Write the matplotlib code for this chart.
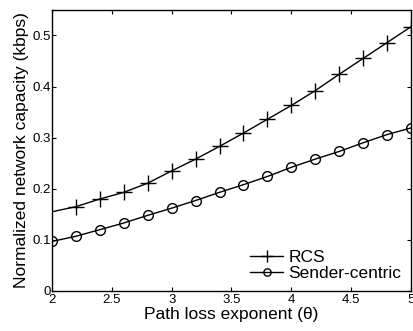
import numpy as np
from matplotlib import pyplot as plt

# path loss exponent
theta = [2.0, 2.2, 2.4, 2.6, 2.8, 3.0, 3.2, 3.4, 3.6, 3.8, 4.0, 4.2, 4.4, 4.6, 4.8, 5.0]
rcs = [0.155, 0.165, 0.180, 0.193, 0.211, 0.235, 0.258, 0.283, 0.309, 0.336, 0.363, 0.392, 0.424, 0.455, 0.486, 0.517]
sender = [0.097, 0.107, 0.120, 0.133, 0.148, 0.162, 0.177, 0.193, 0.208, 0.224, 0.242, 0.258, 0.273, 0.290, 0.306, 0.319]

xticks = [2, 2.5, 3, 3.5, 4, 4.5, 5]
xticklabels = ['2', '2.5', '3', '3.5', '4', '4.5', '5']
yticks = [0, 0.1, 0.2, 0.3, 0.4, 0.5]
yticklabels = ['0', '0.1', '0.2', '0.3', '0.4', '0.5']

plt.rcParams['font.family'] = ['Liberation Sans', 'DejaVu Sans']

fig = plt.figure(figsize=(4.13, 3.31), dpi=100)
ax = fig.add_axes([0.126, 0.121, 0.869, 0.849])

# RCS: line from 2, markers from 2.2
ax.plot(theta, rcs, color='k', lw=1.0, marker='+', markersize=11,
        markeredgewidth=1.0, markevery=list(range(1, len(theta))), label='RCS')
ax.plot(theta, sender, color='k', lw=1.0, marker='o', markersize=7,
        markerfacecolor='none', markeredgewidth=1.0, label='Sender-centric')

ax.set_xlim(2, 5)
ax.set_ylim(0, 0.55)
ax.set_xticks(xticks)
ax.set_xticklabels(xticklabels)
ax.set_yticks(yticks)
ax.set_yticklabels(yticklabels)
ax.tick_params(direction='in', top=True, right=True, labelsize=9.5, length=3, width=0.8, pad=2)
ax.tick_params(axis='y', pad=1)
for s in ax.spines.values():
    s.set_linewidth(1.0)

ax.set_xlabel('Path loss exponent (\u03b8)', fontsize=12.5, labelpad=1)
ax.set_ylabel('Normalized network capacity (kbps)', fontsize=12.5, labelpad=2)

leg = ax.legend(loc='lower right', fontsize=12.5, frameon=False, handlelength=1.9,
                handletextpad=0.3, labelspacing=0.05, borderaxespad=0.15, markerscale=0.75)

fig.savefig('out.png', dpi=100)
